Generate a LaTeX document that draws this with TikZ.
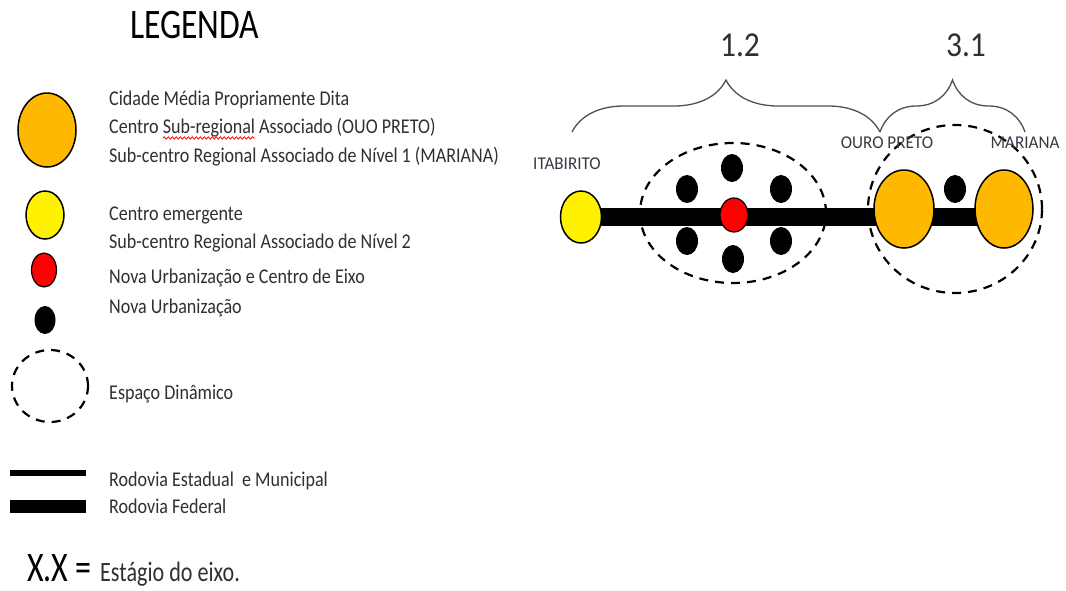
\documentclass[tikz,border=0pt]{standalone}
\usepackage{fontspec}
\usepackage{graphicx}
\setmainfont{Carlito}
\usetikzlibrary{shapes.geometric,decorations.pathreplacing,decorations.pathmorphing,backgrounds}
\definecolor{cityorange}{HTML}{FFB800}
\definecolor{textgray}{HTML}{303030}
\definecolor{labelgray}{HTML}{353944}
\definecolor{bracegray}{HTML}{505050}
\newcommand{\sqz}[2]{\scalebox{#1}[1]{#2}}
\begin{document}
\begin{tikzpicture}[x=1pt,y=-1pt,
  city/.style={ellipse, draw=black, line width=1.5pt, inner sep=0pt},
  blackdot/.style={ellipse, fill=black, inner sep=0pt, minimum width=22pt, minimum height=28pt},
  dyn/.style={ellipse, draw=black, line width=2.2pt, dash pattern=on 9pt off 7pt, inner sep=0pt},
  legtext/.style={anchor=base west, inner sep=0pt, font=\fontsize{21}{21}\selectfont, text=textgray},
  place/.style={anchor=base, inner sep=0pt, font=\fontsize{18}{18}\selectfont, text=labelgray},
  stage/.style={anchor=base, inner sep=0pt, font=\fontsize{35}{35}\selectfont, text=textgray},
  bracepath/.style={draw=bracegray, line width=1.3pt, decorate, decoration={brace, amplitude=52pt}},
  road/.style={draw=black, line cap=butt}
]
\useasboundingbox (0,0) rectangle (1066,590);

% ---------------- Legend ----------------
\node[anchor=base west, inner sep=0pt, font=\fontsize{42}{42}\selectfont, text=black] (legtitle) at (130,38) {\sqz{0.8}{LEGENDA}};

\node[city, fill=cityorange, minimum width=58pt, minimum height=74pt] (lgorange) at (47,130) {};
\node[legtext] (t1) at (109,105) {\sqz{0.86}{Cidade Média Propriamente Dita}};
\node[legtext] (t2) at (109,133) {\sqz{0.86}{Centro Sub-regional Associado (OUO PRETO)}};
\node[legtext] (t3) at (109,162) {\sqz{0.86}{Sub-centro Regional Associado de Nível 1 (MARIANA)}};
\coordinate (w1) at (163,138);
\coordinate (w2) at (255,138);
\draw[red, line width=0.8pt, decorate, decoration={snake, amplitude=1.2pt, segment length=4pt}] (w1) -- (w2);

\node[city, fill=yellow, minimum width=38pt, minimum height=48pt] (lgyellow) at (45,215) {};
\node[legtext] (t4) at (109,220) {\sqz{0.86}{Centro emergente}};
\node[legtext] (t5) at (109,248) {\sqz{0.86}{Sub-centro Regional Associado de Nível 2}};

\node[city, fill=red, line width=1.2pt, minimum width=25pt, minimum height=34pt] (lgred) at (44,270) {};
\node[legtext] (t6) at (109,283) {\sqz{0.86}{Nova Urbanização e Centro de Eixo}};

\node[blackdot, minimum width=21pt, minimum height=28pt] (lgblack) at (45,320) {};
\node[legtext] (t7) at (109,313) {\sqz{0.86}{Nova Urbanização}};

\node[dyn, minimum width=76pt, minimum height=72pt] (lgdyn) at (50,386) {};
\node[legtext] (t8) at (109,399) {\sqz{0.86}{Espaço Dinâmico}};

\coordinate (r1a) at (10,473);
\coordinate (r1b) at (86,473);
\draw[road, line width=6.5pt] (r1a) -- (r1b);
\node[legtext] (t9) at (109,486) {\sqz{0.86}{Rodovia Estadual\ \ e Municipal}};
\coordinate (r2a) at (10,506);
\coordinate (r2b) at (86,506);
\draw[road, line width=13pt] (r2a) -- (r2b);
\node[legtext] (t10) at (109,513) {\sqz{0.86}{Rodovia Federal}};

\node[anchor=base west, inner sep=0pt, font=\fontsize{42}{42}\selectfont, text=black] (xx) at (27,581) {\sqz{0.76}{X.X =}};
\node[anchor=base west, inner sep=0pt, font=\fontsize{28}{28}\selectfont, text=textgray] (t11) at (100,581) {\sqz{0.79}{Estágio do eixo.}};

% ---------------- Axis diagram ----------------
\node[city, fill=yellow, minimum width=41pt, minimum height=52pt] (ita) at (581,217) {};
\node[city, fill=cityorange, minimum width=60pt, minimum height=78pt] (op) at (904,209) {};
\node[city, fill=cityorange, minimum width=58pt, minimum height=78pt] (mar) at (1004,209) {};

\begin{scope}[on background layer]
  \fill[white] (0,0) rectangle (1066,590);
  \draw[road, line width=18pt] (ita.center) -- (ita.center -| mar.center);
\end{scope}

\node[city, fill=red, line width=1.2pt, minimum width=28pt, minimum height=34pt] (ctr) at (734,215) {};
\node[blackdot] (d1) at (732,168) {};
\node[blackdot] (d2) at (687,189) {};
\node[blackdot] (d3) at (781,189) {};
\node[blackdot] (d4) at (687,241) {};
\node[blackdot] (d5) at (781,241) {};
\node[blackdot] (d6) at (733,259) {};
\node[blackdot] (d7) at (955,189) {};

\node[dyn, minimum width=186pt, minimum height=140pt] (dynl) at (733,213) {};
\node[dyn, minimum width=174pt, minimum height=168pt] (dynr) at (955,209) {};

\node[place] (litab) at (567,169) {\sqz{0.95}{ITABIRITO}};
\node[place] (lop) at (887,148) {\sqz{0.95}{OURO PRETO}};
\node[place] (lmar) at (1025,148) {\sqz{0.95}{MARIANA}};

\coordinate (b1s) at (572,132);
\coordinate (b1e) at (880,132);
\coordinate (b2e) at (1025,132);
\draw[bracepath] (b1s) -- (b1e);
\draw[bracepath] (b1e) -- (b2e);

\node[stage] (s12) at (740,56) {\sqz{0.9}{1.2}};
\node[stage] (s31) at (966,56) {\sqz{0.9}{3.1}};
\end{tikzpicture}
\end{document}
